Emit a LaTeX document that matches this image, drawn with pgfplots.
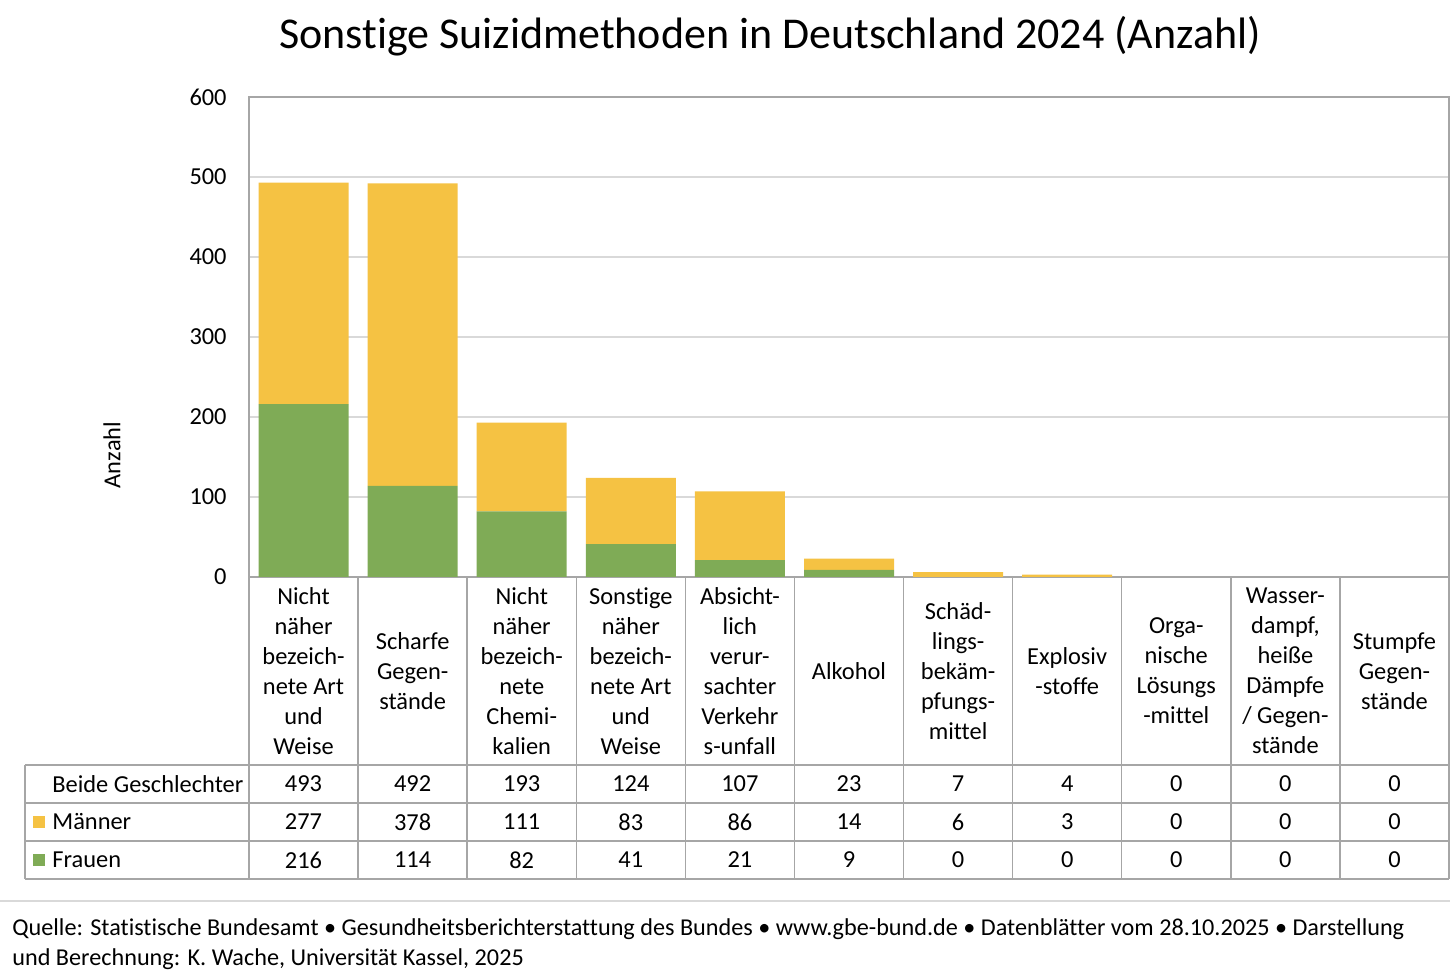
\documentclass[border=0pt]{standalone}
\usepackage{fontspec}
\setmainfont{Carlito}[Ligatures=CommonOff]
\usepackage{pgfplots}
\usepackage{pgfplotstable}
\pgfplotsset{compat=1.18}

\definecolor{maenner}{HTML}{F5C243}
\definecolor{frauen}{HTML}{7FAB56}
\definecolor{rahmen}{HTML}{A6A6A6}
\definecolor{gitter}{HTML}{D9D9D9}

\newcommand\klein{\fontsize{12.2}{15}\selectfont}

% Anzahl nach Methode (Frauen unten, Maenner oben)
\pgfplotstableread{
x  frauen maenner
0  216    277
1  114    378
2  82     111
3  41     83
4  21     86
5  9      14
6  0      6
7  0      3
8  0      0
9  0      0
10 0      0
}\daten

\begin{document}
\begin{tikzpicture}
\begin{axis}[
    at={(0,0)}, anchor=south west,
    scale only axis,
    width=600pt, height=240pt,
    ybar stacked, bar width=45pt,
    xmin=-0.5, xmax=10.5,
    ymin=0, ymax=600,
    ytick={0,100,...,600},
    xtick=\empty,
    ymajorgrids=true,
    grid style={gitter, line width=0.75pt},
    axis line style={rahmen, line width=0.75pt},
    major tick length=0pt,
    yticklabel style={font=\klein, inner sep=0pt},
    yticklabel shift=11pt,
    /pgf/number format/assume math mode=true,
    clip=false,
]
\addplot[fill=frauen, draw=none] table[x=x, y=frauen] {\daten};
\addplot[fill=maenner, draw=none] table[x=x, y=maenner] {\daten};
\end{axis}

% Beschriftung und Datentabelle in Bildpunkten
\begin{scope}[x=0.5pt, y=-0.5pt, shift={(-249,-577)}]
  \node[font=\fontsize{22}{26}\selectfont] at (770,36)
    {Sonstige Suizidmethoden in Deutschland 2024 (Anzahl)};
  \node[rotate=90, font=\klein] at (112,455) {Anzahl};

  \foreach \k in {0,...,11}
    \draw[rahmen, line width=0.75pt] ({249+1200*\k/11},577) -- ({249+1200*\k/11},879);
  \draw[rahmen, line width=0.75pt] (25,765) -- (25,879);
  \foreach \y in {765,803,841,879}
    \draw[rahmen, line width=0.75pt] (25,\y) -- (1449,\y);

  \foreach \i/\t in {
      0/{Nicht\\näher\\bezeich-\\nete Art\\und\\Weise},
      1/{Scharfe\\Gegen-\\stände},
      2/{Nicht\\näher\\bezeich-\\nete\\Chemi-\\kalien},
      3/{Sonstige\\näher\\bezeich-\\nete Art\\und\\Weise},
      4/{Absicht-\\lich\\verur-\\sachter\\Verkehr\\s-unfall},
      5/{Alkohol},
      6/{Schäd-\\lings-\\bekäm-\\pfungs-\\mittel},
      7/{Explosiv\\-stoffe},
      8/{Orga-\\nische\\Lösungs\\-mittel},
      9/{Wasser-\\dampf,\\heiße\\Dämpfe\\/ Gegen-\\stände},
      10/{Stumpfe\\Gegen-\\stände}}
    \node[align=center, inner sep=0pt, font=\klein]
      at ({249+1200*(\i+0.5)/11},671) {\t};

  \foreach \i/\b/\m/\f in {0/493/277/216, 1/492/378/114, 2/193/111/82,
      3/124/83/41, 4/107/86/21, 5/23/14/9, 6/7/6/0, 7/4/3/0,
      8/0/0/0, 9/0/0/0, 10/0/0/0} {
    \node[font=\klein] at ({249+1200*(\i+0.5)/11},784) {\b};
    \node[font=\klein] at ({249+1200*(\i+0.5)/11},822) {\m};
    \node[font=\klein] at ({249+1200*(\i+0.5)/11},860) {\f};
  }

  \node[anchor=west, inner sep=0pt, font=\klein] at (52,784) {Beide Geschlechter};
  \fill[maenner] (33,816) rectangle (45,828);
  \node[anchor=west, inner sep=0pt, font=\klein] at (52,822) {Männer};
  \fill[frauen] (33,854) rectangle (45,866);
  \node[anchor=west, inner sep=0pt, font=\klein] at (52,860) {Frauen};

  \draw[gitter, line width=0.75pt] (0,901) -- (1450,901);
  \node[anchor=base west, inner sep=0pt, font=\fontsize{12.1}{15}\selectfont] at (12,935)
    {Quelle: Statistische Bundesamt • Gesundheitsberichterstattung des Bundes • www.gbe-bund.de • Datenblätter vom 28.10.2025 • Darstellung};
  \node[anchor=base west, inner sep=0pt, font=\fontsize{12.1}{15}\selectfont] at (12,965)
    {und Berechnung: K. Wache, Universität Kassel, 2025};

  \pgfresetboundingbox
  \path[use as bounding box] (0,0) rectangle (1450,978);
\end{scope}
\end{tikzpicture}
\end{document}
